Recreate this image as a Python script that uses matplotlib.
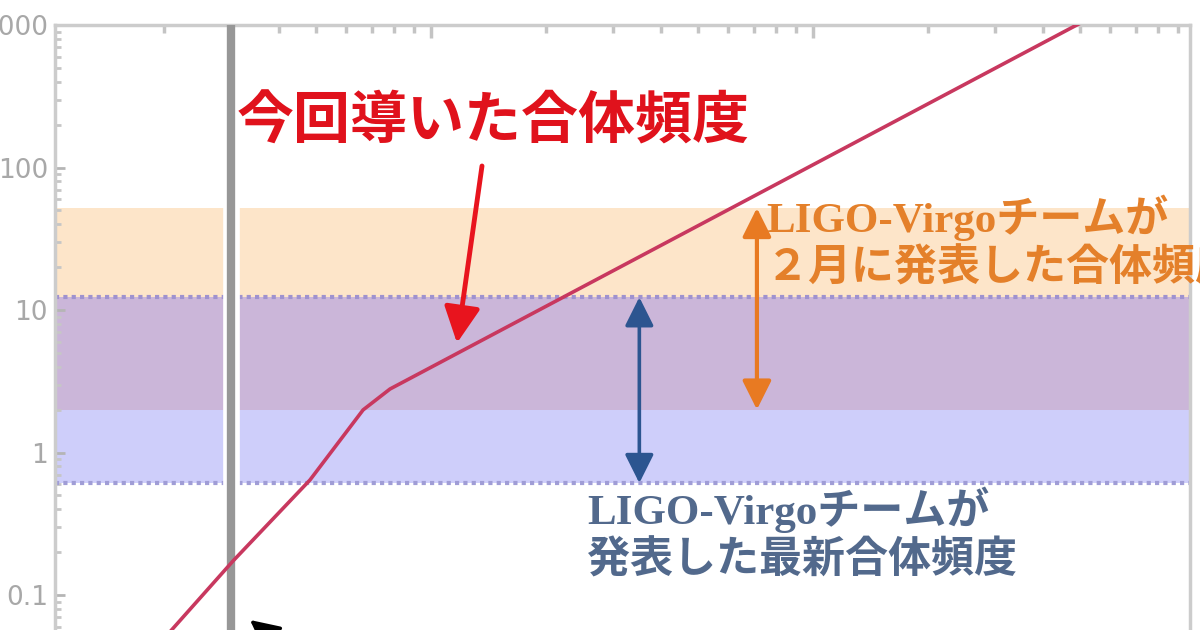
import matplotlib
matplotlib.use("Agg")
import matplotlib.pyplot as plt
import numpy as np

# ---------------- data ----------------
curve_x = [1.84, 3.03, 4.82, 6.64, 7.81, 479.0, 1000.0]
curve_y = [0.0385, 0.173, 0.641, 1.99, 2.79, 968.0, 2700.0]

orange_band = (2.0, 52.0)      # LIGO-Virgo Feb. rate range
blue_band = (0.61, 12.3)       # LIGO-Virgo latest rate range
grey_line_x = 3.0

orange_arrow_x = 71.3
blue_arrow_x = 35.1

y_ticks = [0.1, 1, 10, 100, 1000]
y_ticklabels = ["0.1", "1", "10", "100", "1000"]

title_text = "今回導いた合体頻度"
orange_text = "LIGO-Virgoチームが\n２月に発表した合体頻度"
blue_text = "LIGO-Virgoチームが\n発表した最新合体頻度"

# ---------------- figure ----------------
W, H = 1200, 630
fig = plt.figure(figsize=(12, 6.3), dpi=100)
fig.patch.set_facecolor("white")

def fx(px):
    return px / W

def fy(py):
    return 1 - py / H

ax = fig.add_axes([fx(55), fy(737.5), (1190 - 55) / W, (737.5 - 25) / H])
ax.set_xscale("log")
ax.set_yscale("log")
ax.set_xlim(1.0368, 970)
ax.set_ylim(0.01, 1000)

# bands
ax.axhspan(*orange_band, color="#fde5c9", lw=0, zorder=1)
ax.axhspan(*blue_band, color="#cecefa", lw=0, zorder=1)
ov_lo = max(orange_band[0], blue_band[0])
ov_hi = min(orange_band[1], blue_band[1])
ax.axhspan(ov_lo, ov_hi, color="#cbb6d9", lw=0, zorder=1)
ax.axhline(blue_band[1], color="#9f92cf", lw=3.0, ls=(0, (1, 1.0)), zorder=2)
ax.axhline(blue_band[0], color="#a09dd6", lw=3.0, ls=(0, (1, 1.0)), zorder=2)

# grey vertical line with white halo
ax.axvline(grey_line_x, color="white", lw=12, zorder=2.5)
ax.axvline(grey_line_x, color="#979797", lw=6, zorder=3)

# red curve
ax.plot(curve_x, curve_y, color="#c8385f", lw=2.6, zorder=4,
        solid_capstyle="round", solid_joinstyle="round")

# double arrows
ax.annotate("", xy=(orange_arrow_x, orange_band[0]), xytext=(orange_arrow_x, orange_band[1]),
            arrowprops=dict(arrowstyle="<|-|>,head_length=0.8,head_width=0.4",
                            color="#e87a22", lw=3, shrinkA=0, shrinkB=0, mutation_scale=22),
            zorder=5)
ax.annotate("", xy=(blue_arrow_x, blue_band[0]), xytext=(blue_arrow_x, blue_band[1]),
            arrowprops=dict(arrowstyle="<|-|>,head_length=0.8,head_width=0.4",
                            color="#2c5590", lw=2.6, shrinkA=0, shrinkB=0, mutation_scale=22),
            zorder=5)

# spines and ticks
for s in ["top", "left", "right"]:
    ax.spines[s].set_color("#cccccc")
    ax.spines[s].set_linewidth(2.5)
ax.spines["bottom"].set_visible(False)

ax.set_yticks(y_ticks)
ax.set_yticklabels(y_ticklabels)
ax.tick_params(axis="y", which="major", direction="in", length=7, width=2,
               color="#b5b5b5", labelsize=19, labelcolor="#a8a8a8", pad=5,
               left=True, right=False)
ax.tick_params(axis="y", which="minor", direction="in", length=4, width=2,
               color="#c6c6c6", left=True, right=False)
ax.tick_params(axis="x", which="both", direction="in", top=True, bottom=False,
               labeltop=False, labelbottom=False, color="#c4c4c4", width=2.5)
ax.tick_params(axis="x", which="major", length=9)
ax.tick_params(axis="x", which="minor", length=6)

# texts
fig.text(fx(237), fy(122), title_text, fontsize=41, weight="bold", color="#e0121c",
         ha="left", va="center", family=["Noto Sans CJK JP"])
fig.text(fx(766), fy(242), orange_text, fontsize=31, weight="bold", color="#e4802a",
         ha="left", va="center", linespacing=1.2,
         family=["Liberation Serif", "Noto Sans CJK JP"])
fig.text(fx(587), fy(534), blue_text, fontsize=31, weight="bold", color="#52698c",
         ha="left", va="center", linespacing=1.2,
         family=["Liberation Serif", "Noto Sans CJK JP"])

# red pointer arrow
fig.add_artist(matplotlib.patches.FancyArrowPatch(
    (482, H - 166), (457, H - 343), transform=None,
    arrowstyle="-|>,head_length=1.1,head_width=0.55", mutation_scale=20,
    color="#e8141e", lw=3.5, shrinkA=0, shrinkB=0, zorder=10))

# small black arrow at bottom
fig.add_artist(matplotlib.patches.FancyArrowPatch(
    (300, H - 660), (250, H - 620), transform=None,
    arrowstyle="-|>,head_length=1.0,head_width=0.5", mutation_scale=18,
    color="black", lw=2.5, shrinkA=0, shrinkB=0, zorder=10))

fig.savefig("out.png", dpi=100)
